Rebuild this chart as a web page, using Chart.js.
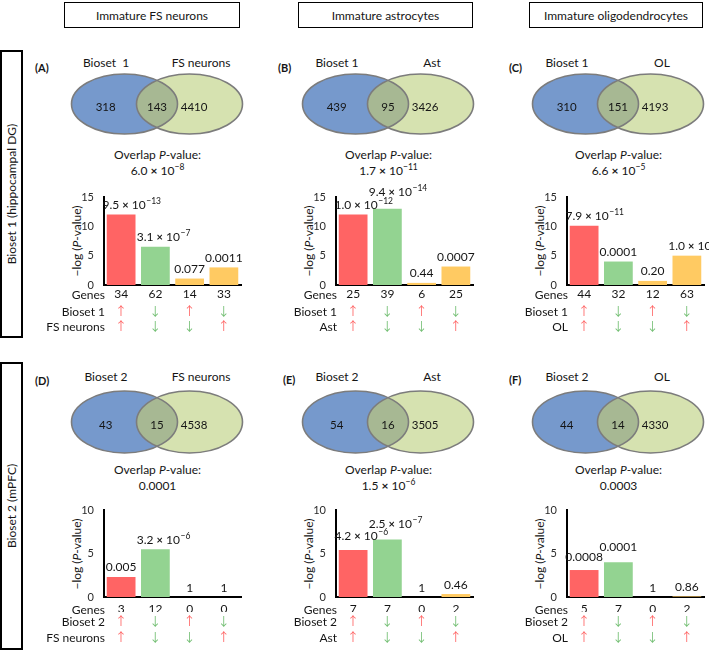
<!DOCTYPE html>
<html><head><meta charset="utf-8">
<script src="https://cdn.jsdelivr.net/npm/chart.js@4/dist/chart.umd.min.js"></script>
<style>
html,body{margin:0;padding:0;background:#fff;}
#fig{position:relative;width:709px;height:651px;overflow:hidden;font-family:Lato,'Open Sans',sans-serif;color:#151515;}
.t{position:absolute;white-space:pre;font-size:12px;line-height:14px;}
.c{transform:translate(-50%,-50%);}
.l{transform:translate(0,-50%);}
.rot{transform:translate(-50%,-50%) rotate(-90deg);}
.box{position:absolute;box-sizing:border-box;display:flex;align-items:center;justify-content:center;font-size:12px;white-space:nowrap;}
sup{font-size:8.5px;vertical-align:0;position:relative;top:-5px;line-height:0;}
canvas{position:absolute;}
</style></head><body><div id="fig"></div>
<script>
// ---------- data ----------
const columnTitles = ['Immature FS neurons', 'Immature astrocytes', 'Immature oligodendrocytes'];
const rowTitles = ['Bioset 1 (hippocampal DG)', 'Bioset 2 (mPFC)'];
const panelIds = ['(A)', '(B)', '(C)', '(D)', '(E)', '(F)'];
const vennBiosetNames = ['Bioset  1', 'Bioset 1', 'Bioset 1', 'Bioset 2', 'Bioset 2', 'Bioset 2'];
const biosetRowNames = ['Bioset 1', 'Bioset 1', 'Bioset 1', 'Bioset 2', 'Bioset 2', 'Bioset 2'];
const cellTypeNames = ['FS neurons', 'Ast', 'OL', 'FS neurons', 'Ast', 'OL'];
const vennOnlyBioset = [318, 439, 310, 43, 54, 44];
const vennOverlap = [143, 95, 151, 15, 16, 14];
const vennOnlyCell = [4410, 3426, 4193, 4538, 3505, 4330];
const overlapP = ['6.0e-8', '1.7e-11', '6.6e-5', '0.0001', '1.5e-6', '0.0003'];
const geneCounts = [[34, 62, 14, 33], [25, 39, 6, 25], [44, 32, 12, 63], [3, 12, 0, 0], [7, 7, 0, 2], [5, 7, 0, 2]];
const barNegLogP = [[12.0, 6.5, 1.1, 3.0], [12.0, 13.0, 0.36, 3.15], [10.1, 4.0, 0.7, 5.0], [2.3, 5.5, 0, 0], [5.4, 6.6, 0, 0.34], [3.1, 4.0, 0, 0.07]];
const barPLabels = [['9.5e-13', '3.1e-7', '0.077', '0.0011'], ['1.0e-12', '9.4e-14', '0.44', '0.0007'], ['7.9e-11', '0.0001', '0.20', '1.0e-5'], ['0.005', '3.2e-6', '1', '1'], ['4.2e-6', '2.5e-7', '1', '0.46'], ['0.0008', '0.0001', '1', '0.86']];
const biosetDir = ['↑', '↓', '↑', '↓'];
const cellTypeDir = ['↑', '↓', '↓', '↑'];
const yAxisMax = [15, 10];
const yAxisStep = 5;

// ---------- style / layout ----------
const TEXT = '#151515', TICK = '#2a2a2a';
const BAR_COLORS = ['#ff6464', '#93d391', '#ffca62', '#ffca62'];
const UP = '#ff6666', DOWN = '#74bf74';
const BLUE = '#7699cc', GREEN = '#d6e2b0', OVERLAP = '#a7b893', STROKE = '#7c7c7c';
const COLS = [{axisX: 104, blue: 124}, {axisX: 336, blue: 355}, {axisX: 567, blue: 585}];
const HEAD = [[64, 176], [298, 175], [529, 174]];
const PANEL_LBL = [[35, 68], [278, 68], [509, 68], [35, 381], [283, 380], [509, 380]];
const ROWS = [
  {labelY: 63, cy: 104, ry: 30, ov1: 155, ov2: 171, cTop: 168, chartTop: 197, chartBottom: 285, cBottom: 340, axisH: [17, 15, 16], pad: [2, 2, 2], box: [50, 288]},
  {labelY: 377, cy: 422, ry: 31, ov1: 470, ov2: 486, cTop: 488, chartTop: 510, chartBottom: 597, cBottom: 650, axisH: [15, 16, 16], pad: [5, 2, 2], box: [362, 288]}
];
const LABEL_RAISE = [[0, 0, 0, 0], [0, 7, 0, 0], [0, 0, 0, 0], [0, 0, 0, 0], [5, 6, 0, 0], [4, 6, 0, 0]];
const SCI_SHIFT = 3;
const UNIT = 65, PLOT_W = 137, Y_W = 30, LEFT_SPACE = 72;
const ARROW_FONT = {size: 12, family: '"Noto Sans CJK JP", "DejaVu Sans", sans-serif'};

Chart.defaults.font.family = 'Lato';
const fig = document.getElementById('fig');

function el(cls, html, x, y, extra) {
  const d = document.createElement('div');
  d.className = cls; d.innerHTML = html;
  d.style.left = x + 'px'; d.style.top = y + 'px';
  if (extra) Object.assign(d.style, extra);
  fig.appendChild(d); return d;
}
function canvas(x, y, w, h) {
  const c = document.createElement('canvas');
  c.width = w; c.height = h; c.style.left = x + 'px'; c.style.top = y + 'px';
  c.style.width = w + 'px'; c.style.height = h + 'px';
  fig.appendChild(c); return c;
}
function splitP(s) {
  const m = /^([\d.]+)e(-?\d+)$/.exec(s);
  return m ? {mant: m[1], exp: m[2].replace('-', '−')} : null;
}
function pHTML(s) {
  const p = splitP(s);
  return p ? `${p.mant} <b>×</b> 10<sup>${p.exp}</sup>` : s;
}

// ---------- static text ----------
columnTitles.forEach((t, i) => el('box', t, HEAD[i][0], 2, {width: HEAD[i][1] + 'px', height: '26px', border: '1.5px solid #000'}));
rowTitles.forEach((t, r) => {
  el('box', '', 0, ROWS[r].box[0], {width: '23px', height: ROWS[r].box[1] + 'px', border: '2px solid #000'});
  el('t rot', t, 12, ROWS[r].box[0] + ROWS[r].box[1] / 2);
});

// ---------- plugins ----------
const pLabelPlugin = {
  id: 'pLabels',
  afterDatasetsDraw(chart, args, opts) {
    const ctx = chart.ctx;
    ctx.save();
    ctx.fillStyle = TEXT; ctx.textBaseline = 'alphabetic'; ctx.textAlign = 'left';
    chart.getDatasetMeta(0).data.forEach((bar, i) => {
      const s = opts.labels[i];
      const by = bar.y - 5.5 - (opts.raise[i] || 0);
      const p = splitP(s);
      ctx.font = '12px Lato';
      if (!p) {
        const w = ctx.measureText(s).width;
        ctx.fillText(s, bar.x - w / 2, by); return;
      }
      const a = p.mant + ' ', b = ' 10';
      const wa = ctx.measureText(a).width, wb = ctx.measureText(b).width;
      ctx.font = 'bold 11px Lato';
      const wx = ctx.measureText('×').width;
      const w = wa + wx + wb;
      let x = bar.x - w / 2 + SCI_SHIFT;
      ctx.font = '12px Lato'; ctx.fillText(a, x, by); x += wa;
      ctx.font = 'bold 11px Lato'; ctx.fillText('×', x, by); x += wx;
      ctx.font = '12px Lato'; ctx.fillText(b, x, by); x += wb;
      ctx.font = '8.5px Lato'; ctx.fillText(p.exp, x + 0.5, by - 5);
    });
    ctx.restore();
  }
};
const rowLabelPlugin = {
  id: 'rowLabels',
  afterDraw(chart, args, opts) {
    const ctx = chart.ctx;
    ctx.save();
    ctx.font = '12px Lato'; ctx.fillStyle = TEXT; ctx.textAlign = 'right'; ctx.textBaseline = 'middle';
    opts.items.forEach(it => {
      const sc = chart.scales[it.axis];
      const y = sc.top + it.pad + it.size * 0.6;
      ctx.fillText(it.text, chart.chartArea.left + 1, y + 0.5);
    });
    ctx.restore();
  }
};
const vennPlugin = {
  id: 'venn',
  afterDatasetsDraw(chart, args, opts) {
    const ctx = chart.ctx, xs = chart.scales.x, ys = chart.scales.y;
    const rx = xs.getPixelForValue(opts.rx) - xs.getPixelForValue(0);
    const ry = ys.getPixelForValue(0) - ys.getPixelForValue(opts.ry);
    const pts = chart.data.datasets.map((d, i) => chart.getDatasetMeta(i).data[0]);
    const path = p => { ctx.beginPath(); ctx.ellipse(p.x, p.y, rx, ry, 0, 0, Math.PI * 2); };
    ctx.save();
    path(pts[0]); ctx.fillStyle = chart.data.datasets[0].backgroundColor; ctx.fill();
    path(pts[1]); ctx.fillStyle = chart.data.datasets[1].backgroundColor; ctx.fill();
    ctx.save(); path(pts[0]); ctx.clip(); path(pts[1]); ctx.fillStyle = opts.overlapColor; ctx.fill(); ctx.restore();
    ctx.lineWidth = 1.6; ctx.strokeStyle = STROKE;
    path(pts[0]); ctx.stroke(); path(pts[1]); ctx.stroke();
    ctx.font = '11.5px Lato'; ctx.fillStyle = TEXT; ctx.textAlign = 'center'; ctx.textBaseline = 'middle';
    const ty = ys.getPixelForValue(opts.textY);
    opts.counts.forEach(c => ctx.fillText(String(c.v), xs.getPixelForValue(c.x), ty));
    ctx.restore();
  }
};

// ---------- panels ----------
for (let p = 0; p < 6; p++) {
  const col = p % 3, row = Math.floor(p / 3);
  const C = COLS[col], R = ROWS[row];
  const green = C.blue + UNIT;

  // panel letter, venn labels, overlap text
  el('t l', '<b>' + panelIds[p] + '</b>', PANEL_LBL[p][0], PANEL_LBL[p][1], {fontSize: '11px'});
  el('t c', vennBiosetNames[p], C.blue - 18, R.labelY);
  el('t c', cellTypeNames[p], green + 12, R.labelY);
  el('t c', 'Overlap <i>P</i>-value:', C.blue + 33.5, R.ov1);
  el('t c', pHTML(overlapP[p]), C.blue + 33.5, R.ov2);
  el('t rot', '−log (<i>P</i>-value)', C.axisX - 27, (R.chartTop + R.chartBottom) / 2);

  // Venn diagram
  const vw = 208, vh = 80;
  const vc = canvas(C.blue - 1.1 * UNIT, R.cy - vh / 2, vw, vh);
  new Chart(vc, {
    type: 'scatter',
    data: {datasets: [vennBiosetNames[p], cellTypeNames[p]].map((name, i) => ({
      label: name, data: [{x: i, y: 0}], backgroundColor: i === 0 ? BLUE : GREEN, pointRadius: 0
    }))},
    options: {
      responsive: false, animation: false, events: [],
      layout: {padding: 0},
      plugins: {legend: {display: false}, tooltip: {enabled: false},
        venn: {rx: 53 / UNIT, ry: R.ry / UNIT, textY: -3 / UNIT, overlapColor: OVERLAP,
          counts: [{v: vennOnlyBioset[p], x: -0.29}, {v: vennOverlap[p], x: 0.5}, {v: vennOnlyCell[p], x: 1.07}]}},
      scales: {x: {display: false, min: -1.1, max: -1.1 + vw / UNIT}, y: {display: false, min: -vh / 2 / UNIT, max: vh / 2 / UNIT}}
    },
    plugins: [vennPlugin]
  });

  // bar chart
  const left = C.axisX - LEFT_SPACE, top = R.cTop;
  const width = col === 2 ? 709 - left : LEFT_SPACE + PLOT_W + 14;
  const height = R.cBottom - top;
  const axesH = R.axisH[0] + R.axisH[1] + R.axisH[2];
  const bc = canvas(left, top, width, height);
  const dirAxis = (labels, idx, weight) => ({
    type: 'category', labels: labels, position: 'bottom', weight: weight, offset: true,
    grid: {display: false, drawTicks: false}, border: {display: false},
    ticks: {padding: R.pad[idx], autoSkip: false, maxRotation: 0, font: ARROW_FONT,
      color: ctx => labels[ctx.index] === '↑' ? UP : DOWN},
    afterFit(s) { s.height = R.axisH[idx]; }
  });
  new Chart(bc, {
    type: 'bar',
    data: {labels: geneCounts[p].map(String), datasets: [{
      data: barNegLogP[p], backgroundColor: BAR_COLORS, borderWidth: 0, categoryPercentage: 1, barPercentage: 0.84
    }]},
    options: {
      responsive: false, animation: false, events: [],
      layout: {padding: {left: LEFT_SPACE - Y_W, right: width - LEFT_SPACE - PLOT_W, top: R.chartTop - top,
        bottom: height - (R.chartBottom - top) - axesH}},
      plugins: {legend: {display: false}, tooltip: {enabled: false},
        pLabels: {labels: barPLabels[p], raise: LABEL_RAISE[p]},
        rowLabels: {items: [
          {axis: 'x', text: 'Genes', pad: R.pad[0], size: 12},
          {axis: 'x2', text: biosetRowNames[p], pad: R.pad[1], size: 12},
          {axis: 'x3', text: cellTypeNames[p], pad: R.pad[2], size: 12}
        ]}},
      scales: {
        y: {min: 0, max: yAxisMax[row], ticks: {stepSize: yAxisStep, padding: 10, color: TICK, font: {size: 11}},
          grid: {display: false, drawTicks: false}, border: {color: '#000', width: 2},
          afterFit(s) { s.width = Y_W; }},
        x: {type: 'category', position: 'bottom', weight: 0, offset: true,
          grid: {display: false, drawTicks: false}, border: {color: '#000', width: 2},
          ticks: {padding: R.pad[0], autoSkip: false, maxRotation: 0, color: TEXT, font: {size: 12}},
          afterFit(s) { s.height = R.axisH[0]; }},
        x2: dirAxis(biosetDir, 1, 1),
        x3: dirAxis(cellTypeDir, 2, 2)
      }
    },
    plugins: [pLabelPlugin, rowLabelPlugin]
  });
}
</script></body></html>
